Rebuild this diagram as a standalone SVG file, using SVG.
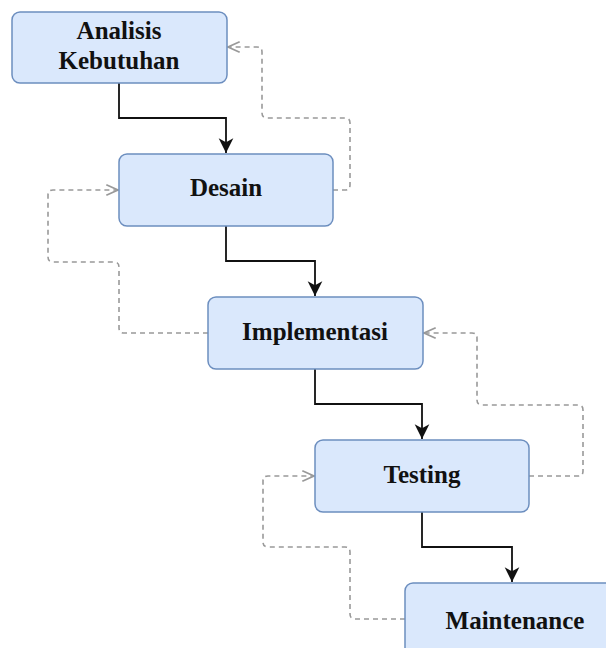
<svg xmlns="http://www.w3.org/2000/svg" width="606" height="648" viewBox="0 0 606 648">
<style>
.box{fill:#dae8fc;stroke:#6c8ebf;stroke-width:1.5}
.lbl{font-family:"Liberation Serif","Times New Roman",serif;font-weight:bold;font-size:25px;fill:#111;text-anchor:middle}
.flow{fill:none;stroke:#111;stroke-width:1.8;marker-end:url(#ah)}
.back{fill:none;stroke:#999;stroke-width:1.6;stroke-dasharray:5 4;marker-end:url(#oh)}
</style>
<defs>
<marker id="ah" markerUnits="userSpaceOnUse" markerWidth="16" markerHeight="16" viewBox="0 0 12 12" refX="11" refY="6" orient="auto">
<path d="M0,0.5 L11,6 L0,11.5 L3,6 Z" fill="#111"/>
</marker>
<marker id="oh" markerUnits="userSpaceOnUse" markerWidth="14" markerHeight="14" viewBox="0 0 12 12" refX="11" refY="6" orient="auto">
<path d="M1,1.5 L11,6 L1,10.5" fill="none" stroke="#999" stroke-width="1.5"/>
</marker>
</defs>
<g id="connectors">
<path class="flow" d="M119,83 L119,118 L226,118 L226,153"/>
<path class="flow" d="M226,226 L226,261 L315,261 L315,296"/>
<path class="flow" d="M315,369 L315,404 L422,404 L422,439"/>
<path class="flow" d="M422,512 L422,547 L512,547 L512,582"/>
<path class="back" d="M333,190 L345,190 Q350,190 350,185 L350,123 Q350,118 345,118 L267,118 Q262,118 262,113 L262,52 Q262,47 257,47 L228,47"/>
<path class="back" d="M208,333 L124,333 Q119,333 119,328 L119,267 Q119,262 114,262 L53,262 Q48,262 48,257 L48,195 Q48,190 53,190 L118,190"/>
<path class="back" d="M529,476 L578,476 Q583,476 583,471 L583,410 Q583,405 578,405 L482,405 Q477,405 477,400 L477,338 Q477,333 472,333 L424,333"/>
<path class="back" d="M405,619 L355,619 Q350,619 350,614 L350,552 Q350,547 345,547 L268,547 Q263,547 263,542 L263,481 Q263,476 268,476 L314,476"/>
</g>
<g id="analisis">
<rect class="box" x="12" y="12" width="215" height="71" rx="8"/>
<text class="lbl" x="119" y="39">Analisis</text>
<text class="lbl" x="119" y="69">Kebutuhan</text>
</g>
<g id="desain">
<rect class="box" x="119" y="154" width="214" height="72" rx="8"/>
<text class="lbl" x="226" y="196">Desain</text>
</g>
<g id="implementasi">
<rect class="box" x="208" y="297" width="215" height="72" rx="8"/>
<text class="lbl" x="315" y="340">Implementasi</text>
</g>
<g id="testing">
<rect class="box" x="315" y="440" width="214" height="72" rx="8"/>
<text class="lbl" x="422" y="483">Testing</text>
</g>
<g id="maintenance">
<rect class="box" x="405" y="583" width="220" height="80" rx="8"/>
<text class="lbl" x="515" y="629">Maintenance</text>
</g>
</svg>
